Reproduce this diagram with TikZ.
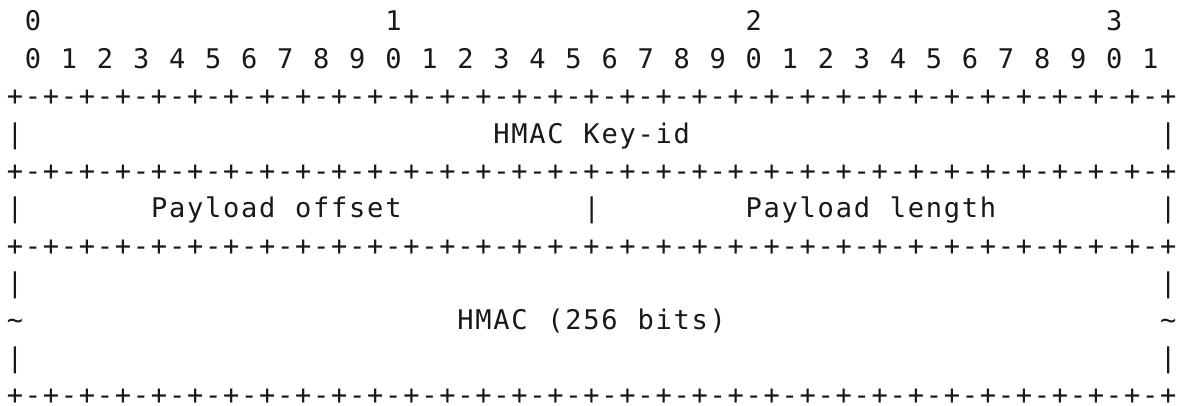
\documentclass[tikz,border=0pt]{standalone}
\usepackage{fontspec}
\newfontfamily\monofont{DejaVu Sans Mono}
\newlength\cw
\setlength\cw{13.515pt}
\makeatletter
\def\spread#1{\spread@#1\@nil}
\def\spread@#1{\ifx#1\@nil\else\makebox[\cw][c]{#1}\expandafter\spread@\fi}
\makeatother
\newcommand\borderline{\spread{+-+-+-+-+-+-+-+-+-+-+-+-+-+-+-+-+-+-+-+-+-+-+-+-+-+-+-+-+-+-+-+-+}}
\tikzset{
  cell/.style={anchor=base west, inner sep=0pt, outer sep=0pt, text=black!90,
    font=\monofont\fontsize{20.3}{24}\selectfont},
}
\begin{document}
\begin{tikzpicture}[x=0.75pt,y=-0.75pt]
\useasboundingbox[fill=white] (0,0) rectangle (1182,406);
\def\ox{6}
\def\cwpx{18.02}
\def\oy{31}
\def\ly{37.35}
% row 0: tens
\node[cell] (t0) at ({\ox+\cwpx*1},{\oy+\ly*0}) {\spread{0}};
\node[cell] (t1) at ({\ox+\cwpx*21},{\oy+\ly*0}) {\spread{1}};
\node[cell] (t2) at ({\ox+\cwpx*41},{\oy+\ly*0}) {\spread{2}};
\node[cell] (t3) at ({\ox+\cwpx*61},{\oy+\ly*0}) {\spread{3}};
% row 1: units
\foreach \i in {0,...,31}{
  \pgfmathtruncatemacro\d{mod(\i,10)}
  \node[cell] (u\i) at ({\ox+\cwpx*(2*\i+1)},{\oy+\ly*1}) {\spread{\d}};
}
% border rows
\node[cell] (b2) at ({\ox},{\oy+\ly*2}) {\borderline};
\node[cell] (b4) at ({\ox},{\oy+\ly*4}) {\borderline};
\node[cell] (b6) at ({\ox},{\oy+\ly*6}) {\borderline};
\node[cell] (b10) at ({\ox},{\oy+\ly*10}) {\borderline};
% row 3
\node[cell] (l3) at ({\ox},{\oy+\ly*3}) {\spread{|}};
\node[cell] (keyid) at ({\ox+\cwpx*27},{\oy+\ly*3}) {\spread{HMAC\ Key-id}};
\node[cell] (r3) at ({\ox+\cwpx*64},{\oy+\ly*3}) {\spread{|}};
% row 5
\node[cell] (l5) at ({\ox},{\oy+\ly*5}) {\spread{|}};
\node[cell] (poff) at ({\ox+\cwpx*8},{\oy+\ly*5}) {\spread{Payload\ offset}};
\node[cell] (m5) at ({\ox+\cwpx*32},{\oy+\ly*5}) {\spread{|}};
\node[cell] (plen) at ({\ox+\cwpx*41},{\oy+\ly*5}) {\spread{Payload\ length}};
\node[cell] (r5) at ({\ox+\cwpx*64},{\oy+\ly*5}) {\spread{|}};
% row 7
\node[cell] (l7) at ({\ox},{\oy+\ly*7}) {\spread{|}};
\node[cell] (r7) at ({\ox+\cwpx*64},{\oy+\ly*7}) {\spread{|}};
% row 8
\node[cell] (l8) at ({\ox},{\oy+\ly*8}) {\spread{\textasciitilde}};
\node[cell] (hmac) at ({\ox+\cwpx*25},{\oy+\ly*8}) {\spread{HMAC\ (256\ bits)}};
\node[cell] (r8) at ({\ox+\cwpx*64},{\oy+\ly*8}) {\spread{\textasciitilde}};
% row 9
\node[cell] (l9) at ({\ox},{\oy+\ly*9}) {\spread{|}};
\node[cell] (r9) at ({\ox+\cwpx*64},{\oy+\ly*9}) {\spread{|}};
\end{tikzpicture}
\end{document}
